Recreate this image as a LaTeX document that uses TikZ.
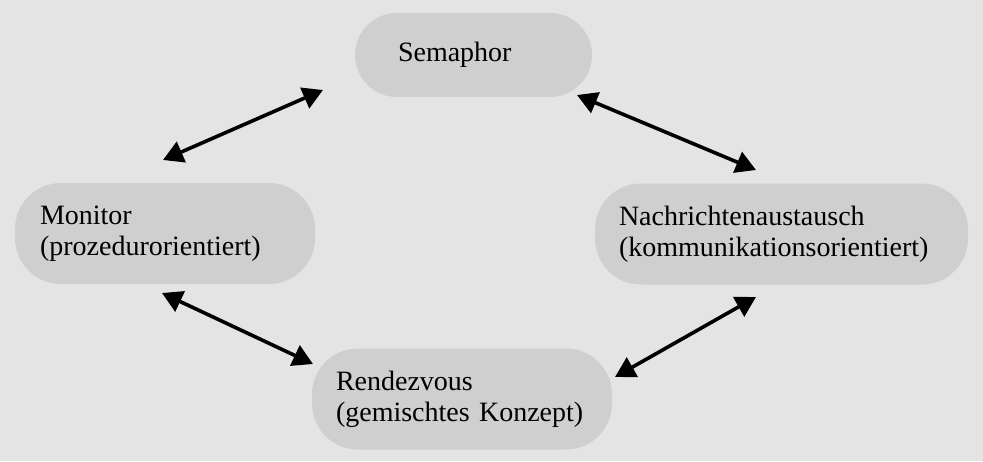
\documentclass[tikz,border=0pt]{standalone}
\usepackage{fontspec}
\setmainfont{Liberation Serif}
\usetikzlibrary{arrows.meta}
\definecolor{bgc}{RGB}{228,228,228}
\definecolor{boxc}{RGB}{207,207,207}
\tikzset{
  pill/.style={fill=boxc, draw=none, rounded corners=46pt, align=left,
    font=\fontsize{28}{31}\selectfont, inner ysep=0pt},
  dbl/.style={line width=3.6pt, {Triangle[length=20pt,width=22pt]}-{Triangle[length=20pt,width=22pt]}, shorten <=0pt, shorten >=0pt}
}
\begin{document}
\begin{tikzpicture}[x=1pt,y=-1pt]
\fill[bgc] (0,0) rectangle (983,461);
\useasboundingbox (0,0) rectangle (983,461);
\node[pill, rounded corners=42pt, text width=151pt, inner xsep=43pt, minimum height=84pt] (sem) at (473.5,55) {Semaphor};
\node[pill, text width=250pt, inner xsep=25pt, minimum height=101pt] (mon) at (165,233.5) {Monitor\\(prozedurorientiert)};
\node[pill, text width=325pt, inner xsep=24pt, minimum height=101pt] (nach) at (781.5,234) {Nachrichtenaustausch\\(kommunikationsorientiert)};
\node[pill, text width=252pt, inner xsep=24pt, minimum height=101pt] (ren) at (462,399) {Rendezvous\\(gemischtes Konzept)};
\coordinate (a1s) at (163,160);
\coordinate (a1e) at (323,90);
\coordinate (a2s) at (577,95);
\coordinate (a2e) at (756,170);
\coordinate (a3s) at (162,293);
\coordinate (a3e) at (313,364);
\coordinate (a4s) at (615,377);
\coordinate (a4e) at (756,297);
\draw[dbl] (a1s) -- (a1e);
\draw[dbl] (a2s) -- (a2e);
\draw[dbl] (a3s) -- (a3e);
\draw[dbl] (a4s) -- (a4e);
\end{tikzpicture}
\end{document}
